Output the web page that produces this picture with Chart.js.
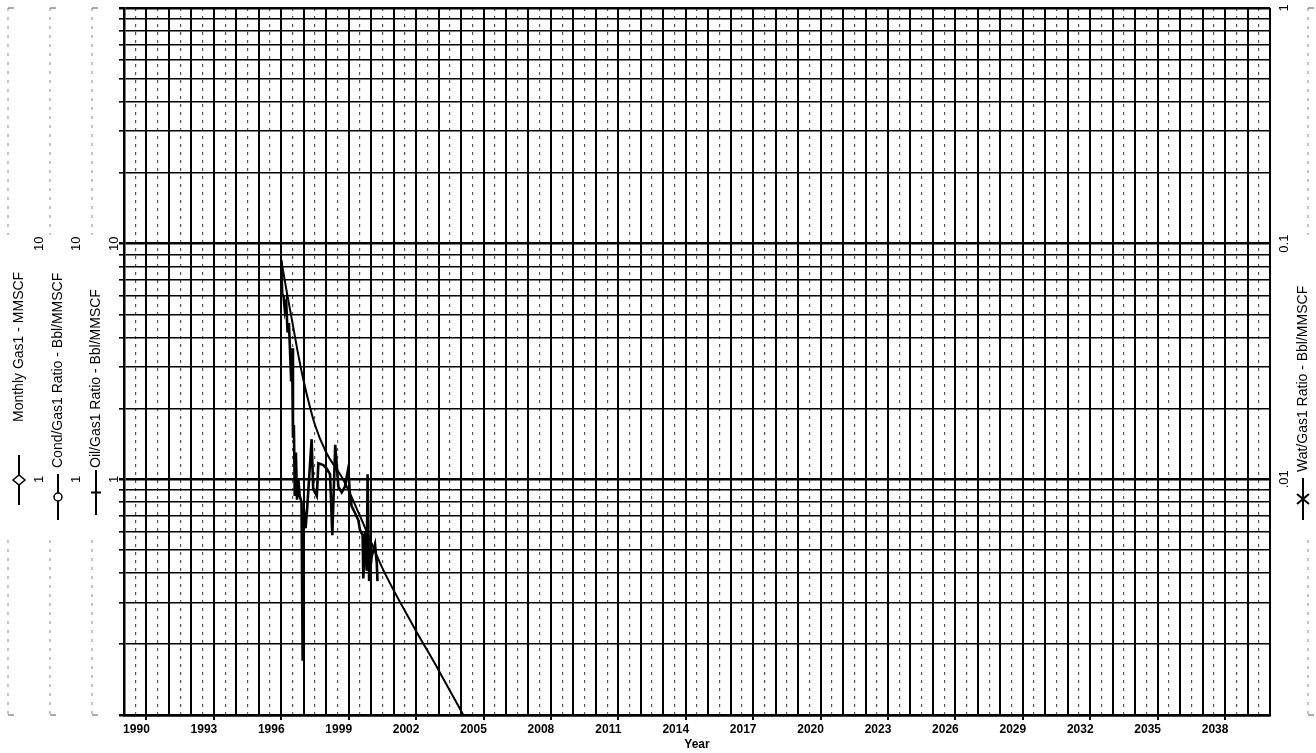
<!DOCTYPE html>
<html>
<head>
<meta charset="utf-8">
<script src="https://cdn.jsdelivr.net/npm/chart.js@4.4.0/dist/chart.umd.min.js"></script>
<style>
  html, body { margin: 0; padding: 0; background: #fff; }
</style>
</head>
<body>
<canvas id="chart" width="1316" height="753"></canvas>
<script>
// data
const gasYears = [1996.00, 1996.04, 1996.10, 1996.16, 1996.22, 1996.28, 1996.34, 1996.40, 1996.44, 1996.48,
  1996.52, 1996.56, 1996.60, 1996.65, 1996.70, 1996.76, 1996.82, 1996.90, 1996.95, 1997.00,
  1997.08, 1997.15, 1997.35, 1997.42, 1997.58, 1997.65, 1997.87, 1998.02, 1998.17, 1998.27,
  1998.40, 1998.54, 1998.69, 1998.83, 1998.98, 1999.06, 1999.13, 1999.28, 1999.43, 1999.50,
  1999.62, 1999.65, 1999.73, 1999.80, 1999.84, 1999.91, 2000.02, 2000.17, 2000.25, 2000.28];
const gasValues = [8.5, 6.1, 6.0, 5.2, 5.6, 4.2, 4.6, 3.3, 2.6, 3.6,
  1.5, 1.7, 0.85, 1.3, 0.82, 1.0, 0.85, 0.8, 0.17, 0.75,
  0.62, 0.75, 1.48, 0.91, 0.85, 1.17, 1.15, 1.11, 1.05, 0.58,
  1.4, 0.93, 0.88, 0.93, 1.11, 0.85, 0.77, 0.72, 0.67, 0.61,
  0.58, 0.38, 0.6, 0.41, 1.05, 0.37, 0.47, 0.53, 0.44, 0.37];

const declineYears = [1996.0, 1996.25, 1996.5, 1996.75, 1997.0, 1997.5, 1998.0, 1998.75, 1999.5, 2000.5, 2001.86, 2003.0, 2004.1];
const declineValues = [8.5, 6.2, 4.6, 3.4, 2.6, 1.7, 1.3, 1.0, 0.7, 0.42, 0.24, 0.155, 0.1];

const yearLabels = [1990, 1993, 1996, 1999, 2002, 2005, 2008, 2011, 2014, 2017, 2020, 2023, 2026, 2029, 2032, 2035, 2038];
const leftTickValues = [1, 10];
const rightTickValues = [1, 0.1, 0.01];
const rightTickLabels = ['1', '0.1', '.01'];
const leftTitles = ['Monthly Gas1 - MMSCF', 'Cond/Gas1 Ratio - Bbl/MMSCF', 'Oil/Gas1 Ratio - Bbl/MMSCF'];
const rightTitle = 'Wat/Gas1 Ratio - Bbl/MMSCF';

const FONT = "'Liberation Sans', Arial, sans-serif";

// grid positions
const yearGrid = [];
for (let y = 1989; y <= 2040; y++) yearGrid.push(y);
const halfGrid = [];
for (let y = 1989; y < 2040; y++) halfGrid.push(y + 0.5);
const logGrid = [];
[0.1, 1, 10].forEach(d => { for (let m = 1; m <= 9; m++) logGrid.push(+(d * m).toPrecision(3)); });
logGrid.push(100);

function vtext(ctx, str, x, y, align) {
  ctx.save();
  ctx.translate(x, y);
  ctx.rotate(-Math.PI / 2);
  ctx.textAlign = align || 'center';
  ctx.textBaseline = 'middle';
  ctx.fillText(str, 0, 0);
  ctx.restore();
}

function marker(ctx, x, y0, y1, sym) {
  const ym = (y0 + y1) / 2;
  ctx.save();
  ctx.strokeStyle = '#000';
  ctx.lineWidth = 2;
  ctx.beginPath();
  ctx.moveTo(x, y0); ctx.lineTo(x, y1);
  ctx.stroke();
  ctx.lineWidth = 1.5;
  ctx.beginPath();
  if (sym === 'diamond') {
    ctx.fillStyle = '#fff';
    ctx.moveTo(x - 6, ym); ctx.lineTo(x, ym - 5); ctx.lineTo(x + 6, ym); ctx.lineTo(x, ym + 5); ctx.closePath();
    ctx.fill(); ctx.stroke();
  } else if (sym === 'circle') {
    ctx.fillStyle = '#fff';
    ctx.arc(x, ym, 4, 0, Math.PI * 2);
    ctx.fill(); ctx.stroke();
  } else if (sym === 'plus') {
    ctx.lineWidth = 2;
    ctx.moveTo(x - 5, ym); ctx.lineTo(x + 5, ym);
    ctx.stroke();
  } else if (sym === 'cross') {
    ctx.lineWidth = 2;
    ctx.moveTo(x - 6, ym - 5); ctx.lineTo(x + 6, ym + 5);
    ctx.moveTo(x - 6, ym + 5); ctx.lineTo(x + 6, ym - 5);
    ctx.stroke();
  }
  ctx.restore();
}

function dashedAxis(ctx, x, top, bottom) {
  ctx.save();
  ctx.strokeStyle = '#888';
  ctx.lineWidth = 1;
  ctx.setLineDash([3, 6]);
  ctx.beginPath();
  ctx.moveTo(x, top); ctx.lineTo(x, 235);
  ctx.moveTo(x, 540); ctx.lineTo(x, bottom);
  ctx.stroke();
  ctx.setLineDash([]);
  ctx.strokeStyle = '#555';
  ctx.beginPath();
  ctx.moveTo(x, top); ctx.lineTo(x + 6, top);
  ctx.moveTo(x, bottom); ctx.lineTo(x + 6, bottom);
  ctx.stroke();
  ctx.restore();
}

// side axes: labels, titles and legend keys
const sideAxes = {
  id: 'sideAxes',
  afterDraw(chart) {
    const ctx = chart.ctx;
    const ys = chart.scales.y;
    const y2 = chart.scales.y2;
    const top = chart.chartArea.top, bottom = chart.chartArea.bottom;
    const cols = [
      { line: 8, title: 19, label: 39, key: 19, sym: 'diamond', titleStart: 422, k0: 455, k1: 505 },
      { line: 50, title: 58, label: 76, key: 58, sym: 'circle', titleStart: 468, k0: 474, k1: 520 },
      { line: 92, title: 96, label: 114, key: 96, sym: 'plus', titleStart: 468, k0: 470, k1: 515 }
    ];
    ctx.fillStyle = '#000';
    cols.forEach((c, i) => {
      dashedAxis(ctx, c.line, top, bottom);
      ctx.font = '13px ' + FONT;
      leftTickValues.forEach(v => vtext(ctx, String(v), c.label, ys.getPixelForValue(v)));
      ctx.font = '14px ' + FONT;
      vtext(ctx, leftTitles[i], c.title, c.titleStart, 'left');
      marker(ctx, c.key, c.k0, c.k1, c.sym);
    });
    // right axis
    dashedAxis(ctx, 1308, top, bottom);
    ctx.font = '13px ' + FONT;
    rightTickValues.forEach((v, i) => vtext(ctx, rightTickLabels[i], 1284, y2.getPixelForValue(v)));
    ctx.font = '14px ' + FONT;
    vtext(ctx, rightTitle, 1303, 472, 'left');
    marker(ctx, 1303, 478, 520, 'cross');
  }
};

new Chart(document.getElementById('chart'), {
  type: 'line',
  data: {
    datasets: [{
      label: 'Monthly Gas1',
      data: gasYears.map((x, i) => ({ x: x, y: gasValues[i] })),
      borderColor: '#000',
      borderWidth: 2.6,
      pointRadius: 0
    }, {
      label: 'Decline',
      data: declineYears.map((x, i) => ({ x: x, y: declineValues[i] })),
      borderColor: '#000',
      borderWidth: 2,
      pointRadius: 0,
      cubicInterpolationMode: 'monotone'
    }]
  },
  options: {
    responsive: false,
    animation: false,
    layout: { padding: { left: 124, right: 46, top: 8, bottom: 0 } },
    plugins: { legend: { display: false }, tooltip: { enabled: false } },
    scales: {
      x: {
        type: 'linear', position: 'bottom', min: 1989, max: 2040,
        afterBuildTicks: s => { s.ticks = yearGrid.map(v => ({ value: v })); },
        afterFit: s => { s.height = 38; },
        ticks: {
          autoSkip: false, maxRotation: 0, padding: 2, labelOffset: -10, color: '#000',
          font: { family: FONT, size: 12, weight: 'bold' },
          callback: v => yearLabels.includes(v) ? String(v) : ''
        },
        grid: {
          color: '#000', lineWidth: 2, tickLength: 5,
          tickColor: c => (c.tick && yearLabels.includes(c.tick.value)) ? '#000' : 'rgba(0,0,0,0)'
        },
        border: { color: '#000', width: 2.5 },
        title: { display: true, text: 'Year', color: '#000', font: { family: FONT, size: 12, weight: 'bold' }, padding: { top: 0, bottom: 1 } }
      },
      xh: {
        type: 'linear', position: 'bottom', min: 1989, max: 2040,
        afterBuildTicks: s => { s.ticks = halfGrid.map(v => ({ value: v })); },
        afterFit: s => { s.height = 0; },
        ticks: { display: false },
        grid: { color: '#555', lineWidth: 1.2, drawTicks: false },
        border: { display: false, dash: [3, 5] }
      },
      y: {
        type: 'logarithmic', position: 'left', min: 0.1, max: 100,
        afterBuildTicks: s => { s.ticks = logGrid.map(v => ({ value: v })); },
        afterFit: s => { s.width = 0; },
        ticks: { display: false },
        grid: {
          color: '#000', tickLength: 5,
          lineWidth: c => {
            const v = c.tick ? c.tick.value : 1;
            return Math.abs(Math.log10(v) - Math.round(Math.log10(v))) < 1e-6 ? 2.5 : 1.6;
          }
        },
        border: { color: '#000', width: 2.5 }
      },
      y2: {
        type: 'logarithmic', position: 'right', min: 0.001, max: 1, display: false
      }
    }
  },
  plugins: [sideAxes]
});
</script>
</body>
</html>
